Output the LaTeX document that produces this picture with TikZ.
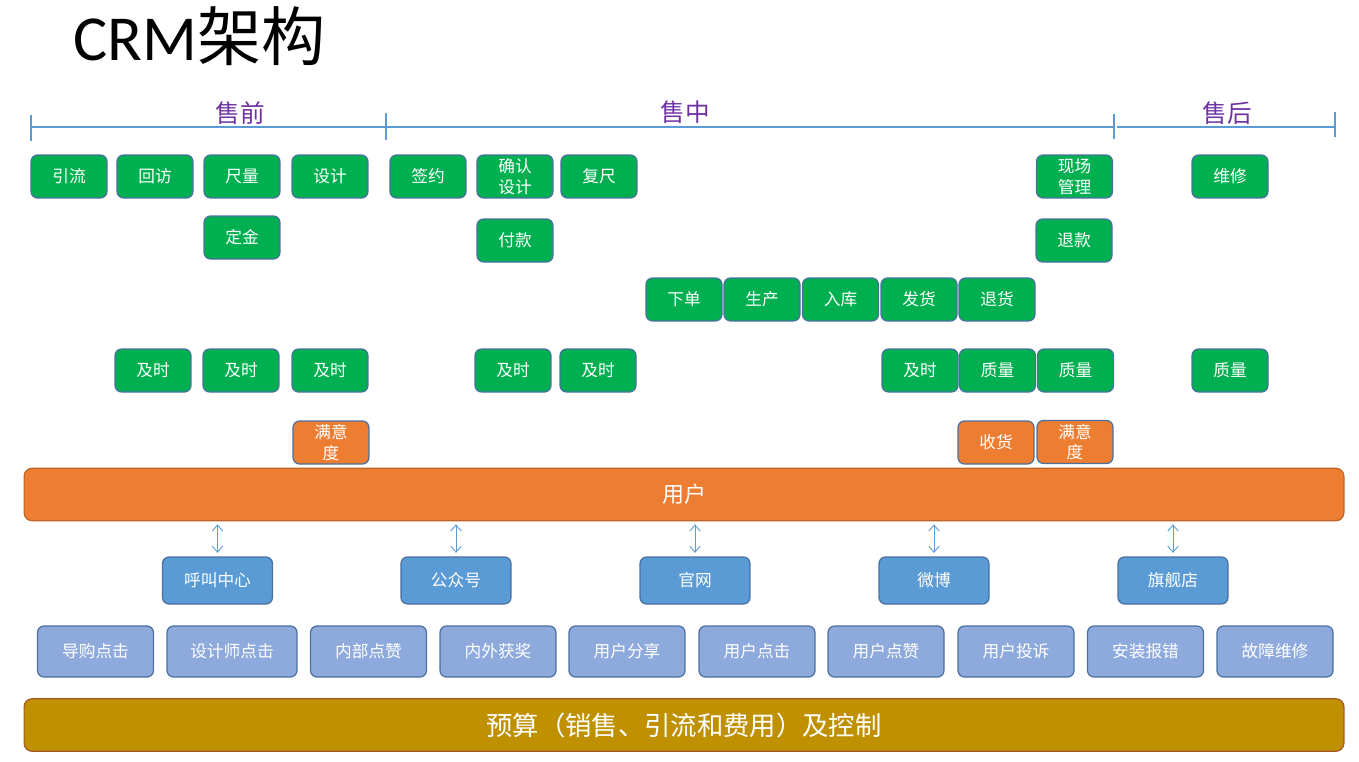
\documentclass[tikz,border=0pt]{standalone}
\usepackage{fontspec}
\setmainfont{Noto Sans CJK SC}
\newfontfamily\latinfont{Carlito}
\usepackage{xcolor}
\usepackage{tikz}
\usetikzlibrary{positioning, arrows.meta}

\definecolor{boxgreen}{HTML}{00B050}
\definecolor{boxedge}{HTML}{4A70A0}
\definecolor{boxorange}{HTML}{ED7D31}
\definecolor{chblue}{HTML}{5B9BD5}
\definecolor{srcblue}{HTML}{8EAADC}
\definecolor{budgetgold}{HTML}{BF9000}
\definecolor{phasepurple}{HTML}{7030A0}
\definecolor{linkblue}{HTML}{5B9BD5}

\tikzset{
  base/.style={draw=boxedge, line width=0.7pt, rounded corners=0.13cm, text=white,
    align=center, inner sep=0pt, font=\fontsize{9.5}{11.8}\selectfont},
  gbox/.style={base, fill=boxgreen, minimum width=1.52cm, minimum height=0.86cm},
  obox/.style={base, fill=boxorange, minimum width=1.52cm, minimum height=0.86cm},
  chbox/.style={base, fill=chblue, minimum width=2.2cm, minimum height=0.94cm},
  srcbox/.style={base, fill=srcblue, minimum width=2.32cm, minimum height=1.02cm},
  bar/.style={line width=0.7pt, rounded corners=0.16cm, minimum width=26.4cm,
    minimum height=1.05cm, text=white, inner sep=0pt},
  phaselabel/.style={text=phasepurple, inner sep=0pt, font=\fontsize{14}{16}\selectfont},
  phaseline/.style={draw=linkblue, line width=0.6pt},
  dblarr/.style={draw=linkblue, line width=0.5pt,
    {Straight Barb[length=3.5pt,width=6pt]}-{Straight Barb[length=3.5pt,width=6pt]}}
}

\begin{document}
\begin{tikzpicture}[x=0.02cm, y=-0.02cm]
  \useasboundingbox (0,0) rectangle (1359,761);

  % Title
  \node[anchor=base west, inner sep=0pt, font=\fontsize{36.5}{40}\selectfont] (title) at (73,60)
    {{\latinfont CRM}架构};

  % Phases
  \node[phaselabel] (pre) at (240,113) {售前};
  \node[phaselabel] (mid) at (685,112) {售中};
  \node[phaselabel] (post) at (1227,113) {售后};
  \draw[phaseline] (31,127) -- (385,127);
  \draw[phaseline] (387,127) -- (1113,127);
  \draw[phaseline] (1117,127) -- (1335,127);
  \draw[phaseline] (31,115) -- (31,141);
  \draw[phaseline] (386,113) -- (386,140);
  \draw[phaseline] (1114,114) -- (1114,139);
  \draw[phaseline] (1335,112) -- (1335,137);

  % Row 1
  \node[gbox] (yinliu) at (69,176.5) {引流};
  \node[gbox] (huifang) at (155,176.5) {回访};
  \node[gbox] (chiliang) at (242,176.5) {尺量};
  \node[gbox] (sheji) at (330,176.5) {设计};
  \node[gbox] (qianyue) at (428,176.5) {签约};
  \node[gbox] (queren) at (515,176.5) {确认\\设计};
  \node[gbox] (fuchi) at (599,176.5) {复尺};
  \node[gbox] (xianchang) at (1074.5,176.5) {现场\\管理};
  \node[gbox] (weixiu) at (1230,176.5) {维修};

  % Row 2
  \node[gbox] (dingjin) at (242,237.5) {定金};
  \node[gbox] (fukuan) at (515,240.5) {付款};
  \node[gbox] (tuikuan) at (1074,240.5) {退款};

  % Row 3
  \node[gbox] (xiadan) at (684,299.5) {下单};
  \node[gbox] (shengchan) at (762,299.5) {生产};
  \node[gbox] (ruku) at (840.5,299.5) {入库};
  \node[gbox] (fahuo) at (919,299.5) {发货};
  \node[gbox] (tuihuo) at (997,299.5) {退货};

  % Row 4
  \node[gbox] (jishiA) at (153,370.5) {及时};
  \node[gbox] (jishiB) at (241,370.5) {及时};
  \node[gbox] (jishiC) at (330,370.5) {及时};
  \node[gbox] (jishiD) at (513,370.5) {及时};
  \node[gbox] (jishiE) at (598,370.5) {及时};
  \node[gbox] (jishiF) at (920,370.5) {及时};
  \node[gbox] (zhiliangA) at (997.5,370.5) {质量};
  \node[gbox] (zhiliangB) at (1075.5,370.5) {质量};
  \node[gbox] (zhiliangC) at (1230,370.5) {质量};

  % Row 5
  \node[obox] (manyiA) at (331,442.5) {满意\\度};
  \node[obox] (shouhuo) at (996,442.5) {收货};
  \node[obox] (manyiB) at (1075,442) {满意\\度};

  % User bar
  \node[bar, draw=boxorange!80!black, fill=boxorange, font=\fontsize{12.5}{14}\selectfont]
    (user) at (684,494.5) {用户};

  % Channels
  \node[chbox] (hujiao) at (217.5,580.5) {呼叫中心};
  \node[chbox] (gongzhong) at (456,580.5) {公众号};
  \node[chbox] (guanwang) at (695,580.5) {官网};
  \node[chbox] (weibo) at (934,580.5) {微博};
  \node[chbox] (qijian) at (1173,580.5) {旗舰店};

  \foreach \c in {hujiao, gongzhong, guanwang, weibo, qijian}
    \draw[dblarr] (\c.north |- user.south) ++(0,3) -- ([yshift=0.07cm]\c.north);

  % Sources
  \node[srcbox] (daogou) at (95.5,651.5) {导购点击};
  \node[srcbox, minimum width=2.6cm] (shejishi) at (232,651.5) {设计师点击};
  \node[srcbox] (neibu) at (368.5,651.5) {内部点赞};
  \node[srcbox] (neiwai) at (498,651.5) {内外获奖};
  \node[srcbox] (fenxiang) at (627,651.5) {用户分享};
  \node[srcbox] (dianji) at (757,651.5) {用户点击};
  \node[srcbox] (dianzan) at (886,651.5) {用户点赞};
  \node[srcbox] (tousu) at (1016,651.5) {用户投诉};
  \node[srcbox] (anzhuang) at (1145.5,651.5) {安装报错};
  \node[srcbox] (guzhang) at (1275,651.5) {故障维修};

  % Budget bar
  \node[bar, draw=boxorange!70!black, fill=budgetgold, font=\fontsize{15}{17}\selectfont]
    (budget) at (684,725) {预算（销售、引流和费用）及控制};
\end{tikzpicture}
\end{document}
